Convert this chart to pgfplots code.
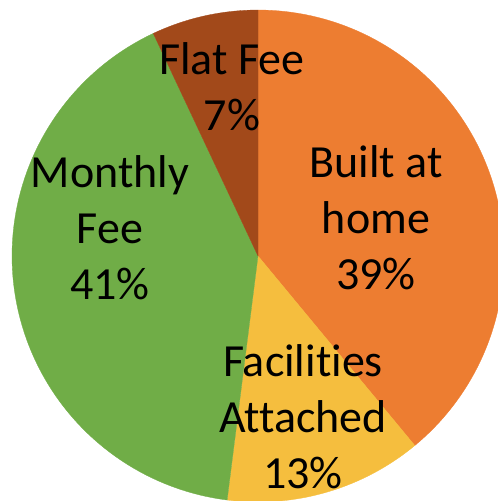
\documentclass[border=0pt]{standalone}
\usepackage{pgfplots}
\usepackage{pgfplotstable}
\pgfplotsset{compat=1.18}
\usepackage{fontspec}
\setmainfont{Carlito}[Ligatures=NoCommon]
\definecolor{cBuilt}{HTML}{ED7D31}
\definecolor{cFac}{HTML}{F5BE3E}
\definecolor{cMon}{HTML}{70AD47}
\definecolor{cFlat}{HTML}{A2491A}
\pgfplotstableread{
name pct
Built 39
Facilities 13
Monthly 41
Flat 7
}\piedata
\begin{document}
\begin{tikzpicture}
\pgfplotstablegetelem{0}{pct}\of\piedata \let\pA\pgfplotsretval
\pgfplotstablegetelem{1}{pct}\of\piedata \let\pB\pgfplotsretval
\pgfplotstablegetelem{2}{pct}\of\piedata \let\pC\pgfplotsretval
\pgfplotstablegetelem{3}{pct}\of\piedata \let\pD\pgfplotsretval
\pgfmathsetmacro\aA{90}
\pgfmathsetmacro\aB{\aA-3.6*\pA}
\pgfmathsetmacro\aC{\aB-3.6*\pB}
\pgfmathsetmacro\aD{\aC-3.6*\pC}
\pgfmathsetmacro\aE{\aD-3.6*\pD}
\def\R{246}
\begin{axis}[
  scale only axis, width=498pt, height=501pt,
  xmin=-258, xmax=240, ymin=-245, ymax=256,
  hide axis, clip=true,
]
\addplot[fill=cBuilt, draw=cBuilt, line width=0.3pt, data cs=polar, domain=\aB:\aA, samples=90] ({x},{\R}) -- (axis cs:0,0) -- cycle;
\addplot[fill=cFac, draw=cFac, line width=0.3pt, data cs=polar, domain=\aC:\aB, samples=40] ({x},{\R}) -- (axis cs:0,0) -- cycle;
\addplot[fill=cMon, draw=cMon, line width=0.3pt, data cs=polar, domain=\aD:\aC, samples=90] ({x},{\R}) -- (axis cs:0,0) -- cycle;
\addplot[fill=cFlat, draw=cFlat, line width=0.3pt, data cs=polar, domain=\aE:\aD, samples=20] ({x},{\R}) -- (axis cs:0,0) -- cycle;
\tikzset{lbl/.style={font=\fontsize{46}{56}\selectfont, align=center, text=black, inner sep=0pt}}
\node[lbl] at (axis cs:-26,169) {Flat Fee\\7\%};
\node[lbl] at (axis cs:-148,28) {Monthly\\Fee\\41\%};
\node[lbl] at (axis cs:118,38) {Built at\\home\\39\%};
\node[lbl] at (axis cs:45,-161) {Facilities\\Attached\\13\%};
\end{axis}
\pgfresetboundingbox
\path[use as bounding box] (current axis.south west) rectangle (current axis.north east);
\end{tikzpicture}
\end{document}
